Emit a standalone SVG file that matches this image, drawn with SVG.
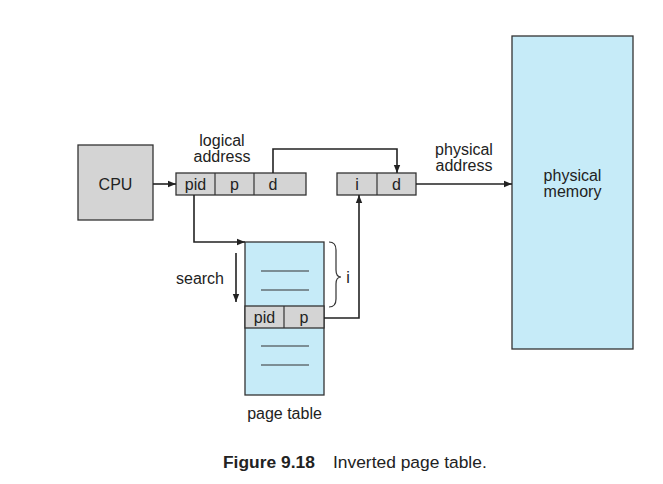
<svg xmlns="http://www.w3.org/2000/svg" width="663" height="484" viewBox="0 0 663 484">
<defs>
<marker id="ah" viewBox="0 0 10 10" refX="10" refY="5" markerWidth="8" markerHeight="8" markerUnits="userSpaceOnUse" orient="auto">
<path d="M0,1 L10,5 L0,9 Z" fill="#222"/>
</marker>
<style>
.t{font-family:"Liberation Sans",Arial,sans-serif;font-size:16px;fill:#222;text-anchor:middle}
.g{fill:#d4d4d4;stroke:#333;stroke-width:1.3}
.b{fill:#c6ebf8;stroke:#333;stroke-width:1.3}
.l{fill:none;stroke:#222;stroke-width:1.6}
.th{fill:none;stroke:#333;stroke-width:1.2}
</style>
</defs>
<rect width="663" height="484" fill="#fff"/>
<g id="cpu">
<rect class="g" x="78" y="145" width="75" height="75"/>
<text class="t" x="115.5" y="189.5">CPU</text>
</g>
<g id="logical-address">
<rect class="g" x="176" y="173" width="130" height="22"/>
<line class="th" x1="215" y1="173" x2="215" y2="195"/>
<line class="th" x1="254" y1="173" x2="254" y2="195"/>
<text class="t" x="195.5" y="190">pid</text>
<text class="t" x="234.5" y="190">p</text>
<text class="t" x="273" y="190">d</text>
<text class="t" x="222" y="145.5">logical</text>
<text class="t" x="222" y="161.5">address</text>
</g>
<g id="physical-address">
<rect class="g" x="337" y="173" width="79" height="22"/>
<line class="th" x1="377" y1="173" x2="377" y2="195"/>
<text class="t" x="357" y="190">i</text>
<text class="t" x="396.5" y="190">d</text>
<text class="t" x="464" y="155">physical</text>
<text class="t" x="464" y="171">address</text>
</g>
<g id="physical-memory">
<rect class="b" x="512" y="36" width="121" height="313"/>
<text class="t" x="572.5" y="181">physical</text>
<text class="t" x="572.5" y="197">memory</text>
</g>
<g id="page-table">
<rect class="b" x="245" y="242" width="79" height="153"/>
<rect class="g" x="245" y="306" width="79" height="22"/>
<line class="th" x1="284" y1="306" x2="284" y2="328"/>
<text class="t" x="264.5" y="323">pid</text>
<text class="t" x="304" y="323">p</text>
<line class="th" x1="261" y1="271" x2="309" y2="271"/>
<line class="th" x1="261" y1="290" x2="309" y2="290"/>
<line class="th" x1="261" y1="346" x2="309" y2="346"/>
<line class="th" x1="261" y1="365" x2="309" y2="365"/>
<text class="t" x="284.5" y="419">page table</text>
</g>
<g id="search">
<text class="t" x="200" y="283.5">search</text>
<line class="l" x1="236" y1="253" x2="236" y2="302" marker-end="url(#ah)"/>
</g>
<g id="brace">
<path class="th" d="M329,242 Q336,242 336,250 L336,270 Q336,277 341,277 Q336,277 336,284 L336,299 Q336,307 329,307"/>
<text class="t" x="348" y="283">i</text>
</g>
<g id="connectors">
<line class="l" x1="153" y1="184" x2="176" y2="184" marker-end="url(#ah)"/>
<path class="l" d="M273,173 V149 H397 V173" marker-end="url(#ah)"/>
<path class="l" d="M194,195 V242 H245" marker-end="url(#ah)"/>
<path class="l" d="M324,318 H359 V195" marker-end="url(#ah)"/>
<line class="l" x1="416" y1="184" x2="512" y2="184" marker-end="url(#ah)"/>
</g>
<g id="caption">
<text x="223" y="468" style="font-family:'Liberation Sans',Arial,sans-serif;font-size:17.4px;fill:#222;font-weight:bold">Figure 9.18</text>
<text x="333" y="468" style="font-family:'Liberation Sans',Arial,sans-serif;font-size:17.4px;fill:#222">Inverted page table.</text>
</g>
</svg>
